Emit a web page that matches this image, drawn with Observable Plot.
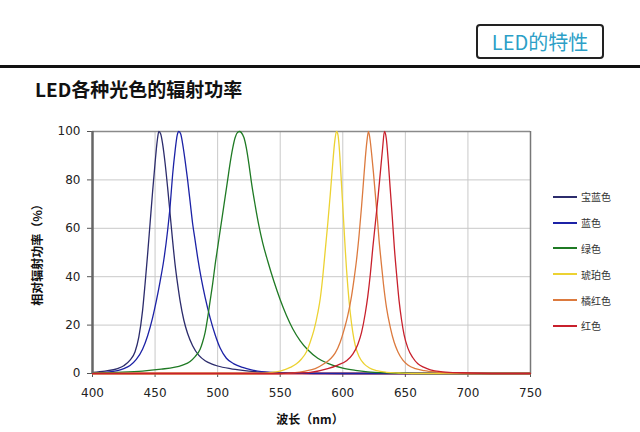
<!DOCTYPE html>
<html>
<head>
<meta charset="utf-8">
<script src="https://cdn.jsdelivr.net/npm/d3@7"></script>
<script src="https://cdn.jsdelivr.net/npm/@observablehq/plot@0.6"></script>
<style>
  html, body { margin: 0; padding: 0; background: #fff; }
  #page { position: relative; width: 640px; height: 432px; overflow: hidden; background: #fff;
          font-family: "Noto Sans CJK SC", "DejaVu Sans", sans-serif; }
  #badge { position: absolute; left: 476px; top: 24px; width: 124px; height: 31px;
           border: 2px solid #222; border-radius: 4px; color: #2d9fc7; font-size: 20px;
           line-height: 31px; text-align: center; font-family: "Noto Sans CJK SC", sans-serif; }
  #rule { position: absolute; left: 0; top: 65px; width: 640px; height: 3px; background: #111; }
  #title { position: absolute; left: 35px; top: 75px; font-size: 19px; font-weight: bold; color: #111;
           font-family: "Noto Sans CJK SC", sans-serif; }
  #chart { position: absolute; left: 0; top: 105px; }
  #ylabel { position: absolute; left: 36px; top: 252px; transform: translate(-50%, -50%) rotate(-90deg);
            white-space: nowrap; font-size: 12px; font-weight: bold; color: #111; }
  #xlabel { position: absolute; left: 310px; top: 418px; transform: translate(-50%, -50%);
            white-space: nowrap; font-size: 12px; font-weight: bold; color: #111; }
  #legend { position: absolute; left: 553px; top: 184px; }
  .item { display: flex; align-items: center; height: 25.8px; font-size: 10px; color: #333; }
  .sw { display: block; width: 24px; height: 2px; margin-right: 4px; }
</style>
</head>
<body>
<div id="page">
  <div id="badge">LED的特性</div>
  <div id="rule"></div>
  <div id="title">LED各种光色的辐射功率</div>
  <div id="chart"></div>
  <div id="ylabel">相对辐射功率（%）</div>
  <div id="xlabel">波长（nm）</div>
  <div id="legend"></div>
</div>
<script>
// Series names and colours
const seriesNames = ["宝蓝色", "蓝色", "绿色", "琥珀色", "橘红色", "红色"];
const seriesColors = ["#2c2c6c", "#1c22a6", "#1f7a24", "#ecd232", "#dc7a3e", "#c8202c"];

// Tick values
const xTicks = [400, 450, 500, 550, 600, 650, 700, 750];
const yTicks = [0, 20, 40, 60, 80, 100];

// [wavelength nm, relative power %]
const royalBlue = [[400,0.5],[410,1],[420,2],[425,3.2],[430,5.5],[434,9],[437,15],[440,26],[442,37],[444,49],[446,62],[448,75],[450,87],[451.7,96],[453,100],[454.5,99],[456,95],[458,87],[460,77],[462,66],[464,55],[466,45],[468,37],[470,30],[473,22],[476,16.5],[480,11.5],[485,7.5],[490,5.3],[495,4],[500,3.1],[510,2],[520,1.3],[530,0.8],[540,0.5],[550,0.3],[570,0.1],[600,0],[750,0]];
const blue = [[400,0.2],[410,0.5],[420,1.2],[425,2],[430,3.3],[435,5.8],[440,10],[444,15.5],[448,23],[451,30],[454,38],[457,47],[460,59],[462,69],[464,82],[466,92],[467.7,98.5],[469,100],[470.5,99],[472,95],[474,88],[476,80],[478,71],[480,62],[482,55],[484,48],[487,39],[490,31.5],[494,23],[498,16],[502,10.5],[507,6.3],[513,4],[520,2.5],[527,1.5],[535,0.8],[548,0.4],[560,0.2],[580,0],[750,0]];
const green = [[400,0.2],[420,0.5],[440,1],[455,1.8],[465,2.5],[472,3.5],[478,5],[482,7],[486,10],[488,13],[490,17],[492,23],[494,30],[496,37],[498,45],[500,52],[502,59],[504,66],[506,73],[508,80],[510,87],[512,93],[514,97.5],[516,99.7],[517.5,100],[519,99.5],[521,97.5],[523,93],[525,86.5],[527,79],[530,69.5],[533,61],[536,54],[540,46.5],[545,38],[550,30.5],[555,24],[560,18.5],[566,13.5],[572,9.8],[580,6.3],[588,4.2],[600,2.2],[610,1.3],[620,0.7],[635,0.3],[650,0.1],[665,0],[750,0]];
const amber = [[400,0],[530,0],[540,0.3],[550,1],[558,2.5],[563,4],[567,6],[571,9],[574,13],[577,18],[580,25],[582,31],[584,40],[586,51],[588,62],[590,74],[592,87],[593.6,96],[595,100],[596.2,98.5],[597,94.5],[598,87],[599,78],[600,69],[601,60],[602,51],[603,43],[604,36],[606,25],[608,17],[610,11.5],[613,7],[617,4],[621,2.4],[627,1.2],[635,0.5],[645,0.2],[655,0],[750,0]];
const orange = [[400,0],[550,0],[560,0.3],[570,1],[578,2],[585,4],[590,6],[594,8.5],[598,13],[601,18],[604,24],[607,32],[609,39],[611,47],[613,57],[615,69],[616.5,79],[618,89],[619.3,96],[620.5,100],[621.7,97],[623,91],[624.5,83],[626,74],[627.5,65],[629,55],[630.5,47],[632.5,37],[635,27],[638,19],[641,13],[644,9],[648,5.5],[652,3.5],[658,2],[665,1.2],[675,0.6],[690,0.2],[705,0],[750,0]];
const red = [[400,0],[550,0],[560,0.2],[574,0.5],[588,2],[596,3.5],[603,5.3],[608,8],[612,12],[615,17],[618,25],[620,32],[622,41],[624,52],[626,62],[628,72],[630,83],[631.8,93],[633.3,100],[634.8,97],[636.3,88],[637.8,77],[639.5,65],[641.2,52],[643,41],[645,30],[647,22],[649,16],[652,10.5],[656,6.5],[660,4],[665,2.5],[670,1.5],[680,0.7],[695,0.3],[710,0.1],[725,0],[750,0]];

const seriesData = [royalBlue, blue, green, amber, orange, red];

const tickFont = {fontFamily: "DejaVu Sans, sans-serif", fontSize: "12px", fill: "#222"};

const lineMarks = seriesData.map((d, i) =>
  Plot.line(d, {x: p => p[0], y: p => p[1], stroke: seriesColors[i], strokeWidth: 1.3, curve: "monotone-x"})
);

const chart = Plot.plot({
  width: 640,
  height: 320,
  marginLeft: 92,
  marginRight: 110,
  marginTop: 26,
  marginBottom: 52,
  style: {background: "transparent", fontFamily: "DejaVu Sans, sans-serif", fontSize: "12px", color: "#222"},
  x: {domain: [400, 750]},
  y: {domain: [0, 100]},
  marks: [
    Plot.gridX(xTicks.slice(1, -1), {stroke: "#c9c9c9", strokeOpacity: 1}),
    Plot.gridY(yTicks.slice(1, -1), {stroke: "#c9c9c9", strokeOpacity: 1}),
    Plot.ruleY([100], {stroke: "#8a8a8a", strokeWidth: 1.5}),
    Plot.ruleX([750], {stroke: "#777", strokeWidth: 1.5}),
    Plot.axisX({ticks: xTicks, tickSize: 4, tickPadding: 11, label: null, stroke: "#555", ...tickFont}),
    Plot.axisY({ticks: yTicks, tickSize: 5, tickPadding: 7, label: null, stroke: "#555", ...tickFont}),
    Plot.ruleY([0], {stroke: seriesColors[5], strokeWidth: 2.2}),
    ...lineMarks,
    Plot.ruleX([400], {stroke: "#666", strokeWidth: 2.5})
  ]
});
document.getElementById("chart").appendChild(chart);

const legend = document.getElementById("legend");
seriesNames.forEach((name, i) => {
  const item = document.createElement("div");
  item.className = "item";
  const sw = document.createElement("span");
  sw.className = "sw";
  sw.style.background = seriesColors[i];
  item.appendChild(sw);
  const t = document.createElement("span");
  t.textContent = name;
  item.appendChild(t);
  legend.appendChild(item);
});
</script>
</body>
</html>
